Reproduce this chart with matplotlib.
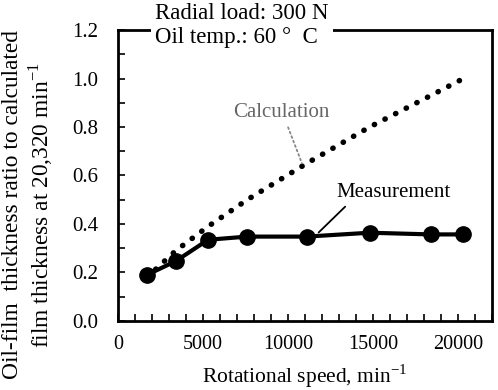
import numpy as np
import matplotlib
matplotlib.use('Agg')
import matplotlib.pyplot as plt
from matplotlib.ticker import MultipleLocator, FormatStrFormatter

plt.rcParams['font.family'] = ['Liberation Serif', 'DejaVu Serif']

# measured ratio
speed_meas = [1700, 3400, 5300, 7600, 11100, 14800, 18400, 20300]
ratio_meas = [0.19, 0.247, 0.335, 0.348, 0.348, 0.364, 0.357, 0.357]

# calculated ratio
speed_calc = [1700, 3400, 5300, 7600, 11100, 14800, 18400, 20320]
ratio_calc = [0.18, 0.29, 0.39, 0.50, 0.65, 0.80, 0.93, 1.0]

fig = plt.figure(figsize=(4.98, 3.9), dpi=100)
ax = fig.add_axes([0.237, 0.177, 0.751, 0.746])

ax.plot(speed_calc, ratio_calc, color='black', lw=4,
        linestyle=(0, (0.05, 2.1)), dash_capstyle='round', zorder=2)
ax.plot(speed_meas, ratio_meas, color='black', lw=3, marker='o',
        markersize=11, zorder=3)

ax.set_xlim(0, 22000)
ax.set_ylim(0, 1.2)
ax.xaxis.set_major_locator(MultipleLocator(5000))
ax.xaxis.set_minor_locator(MultipleLocator(1000))
ax.yaxis.set_major_locator(MultipleLocator(0.2))
ax.yaxis.set_minor_locator(MultipleLocator(0.1))
ax.yaxis.set_major_formatter(FormatStrFormatter('%.1f'))
ax.tick_params(which='both', direction='in', width=1.2, length=5)
ax.tick_params(axis='x', which='major', labelsize=14.5, pad=10)
ax.tick_params(axis='y', which='major', labelsize=15, pad=14)
for s in ax.spines.values():
    s.set_linewidth(2)

ax.set_xlabel('Rotational speed, min$^{\\mathregular{-1}}$', fontsize=15.5, labelpad=6)
fig.text(0.058, 0.475,
         'Oil-film  thickness ratio to calculated\nfilm thickness at 20,320 min$^{\\mathregular{-1}}$',
         rotation=90, ha='center', va='center', fontsize=16.8, linespacing=1.15)

# condition text box over the top spine
ax.text(0.1, 1.092, 'Radial load: 300 N\nOil temp.: 60 \u00b0  C', transform=ax.transAxes,
        ha='left', va='top', fontsize=16.5, linespacing=1.2,
        bbox=dict(facecolor='white', edgecolor='none', pad=3), zorder=5, clip_on=False)

# annotations
ax.annotate('Calculation', xy=(10820, 0.65), xytext=(9600, 0.86),
            fontsize=15, color='#666666', ha='center', va='center',
            arrowprops=dict(arrowstyle='-', color='#888888', lw=1.3,
                            linestyle=':', relpos=(0.55, 0), shrinkA=2, shrinkB=0))
ax.annotate('Measurement', xy=(11800, 0.365), xytext=(16200, 0.53),
            fontsize=15, color='black', ha='center', va='center',
            arrowprops=dict(arrowstyle='-', color='black', lw=1.3,
                            relpos=(0.12, 0), shrinkA=2, shrinkB=0))

fig.savefig('out.png', dpi=100)
